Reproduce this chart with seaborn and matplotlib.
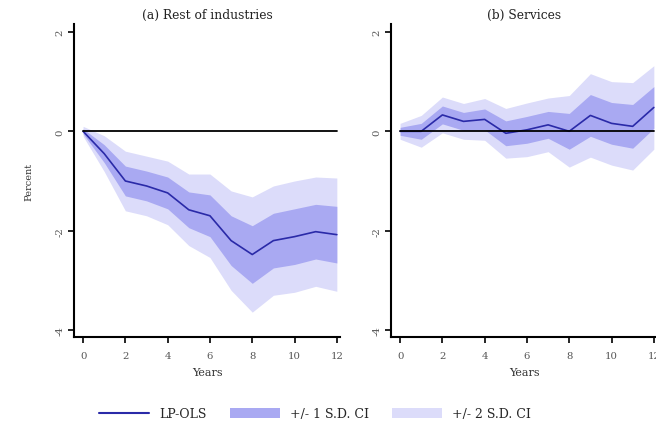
import numpy as np
import pandas as pd
import matplotlib
matplotlib.use("Agg")
import matplotlib.pyplot as plt
import seaborn as sns
from matplotlib.patches import Patch
from matplotlib.lines import Line2D

years = list(range(13))
rest_irf = [0.0, -0.45, -1.0, -1.1, -1.24, -1.58, -1.7, -2.2, -2.48, -2.2, -2.12, -2.02, -2.08]
rest_se = [0.05, 0.18, 0.3, 0.3, 0.32, 0.36, 0.42, 0.5, 0.58, 0.55, 0.56, 0.55, 0.57]
serv_irf = [0.0, 0.0, 0.33, 0.2, 0.24, -0.04, 0.03, 0.13, 0.0, 0.32, 0.16, 0.1, 0.48]
serv_se = [0.08, 0.16, 0.18, 0.18, 0.21, 0.25, 0.27, 0.27, 0.36, 0.42, 0.42, 0.44, 0.42]
titles = ["(a) Rest of industries", "(b) Services"]
yticks = [2, 0, -2, -4]
xticks = [0, 2, 4, 6, 8, 10, 12]
legend_labels = ["LP-OLS", "+/- 1 S.D. CI", "+/- 2 S.D. CI"]

sns.set_style("ticks")
plt.rcParams["font.family"] = ["DejaVu Serif", "Liberation Serif"]

line_c = "#2a2aa8"
dark_c = "#a9a9f2"
light_c = "#dcdcfa"
tick_c = "#555555"

W, H = 656, 427
fig = plt.figure(figsize=(W / 100, H / 100), dpi=100)

panels = [(rest_irf, rest_se), (serv_irf, serv_se)]
lefts = [74, 391]
for i, (irf, se) in enumerate(panels):
    ax = fig.add_axes([lefts[i] / W, 1 - 338 / H, 266 / W, 313 / H])
    irf_a = np.array(irf)
    se_a = np.array(se)
    ax.fill_between(years, irf_a - 2 * se_a, irf_a + 2 * se_a, color=light_c, lw=0)
    ax.fill_between(years, irf_a - se_a, irf_a + se_a, color=dark_c, lw=0)
    df = pd.DataFrame({"year": years, "irf": irf})
    sns.lineplot(data=df, x="year", y="irf", ax=ax, color=line_c, lw=1.2)
    ax.plot([years[0], years[-1]], [0, 0], color="black", lw=1.3)
    ax.set_xlim(-0.43, 12.15)
    ax.set_ylim(-4.14, 2.16)
    ax.set_yticks(yticks)
    ax.set_yticklabels([str(t) for t in yticks], rotation=90, va="center")
    ax.set_xticks(xticks)
    ax.tick_params(axis="both", direction="out", length=4, width=1.2, color="black",
                   labelcolor=tick_c, labelsize=7.3)
    ax.tick_params(axis="y", pad=3)
    ax.tick_params(axis="x", pad=6)
    for s in ["top", "right"]:
        ax.spines[s].set_visible(False)
    for s in ["left", "bottom"]:
        ax.spines[s].set_linewidth(1.5)
        ax.spines[s].set_color("black")
    ax.set_xlabel("Years", fontsize=8, color="#333333", labelpad=5)
    ax.set_ylabel("Percent" if i == 0 else "", fontsize=7, color="#333333", labelpad=16)
    ax.set_title(titles[i], fontsize=8.8, color="#222222", pad=4)
    ax.set_facecolor("white")

handles = [Line2D([0], [0], color=line_c, lw=1.5),
           Patch(facecolor=dark_c, edgecolor="none"),
           Patch(facecolor=light_c, edgecolor="none")]
fig.legend(handles, legend_labels, loc="center", bbox_to_anchor=(315 / W, 1 - 415 / H),
           ncol=3, frameon=False, fontsize=9, handlelength=4.0, handleheight=0.8,
           columnspacing=1.85, handletextpad=0.8)

fig.savefig("out.png", dpi=100, facecolor="white")
